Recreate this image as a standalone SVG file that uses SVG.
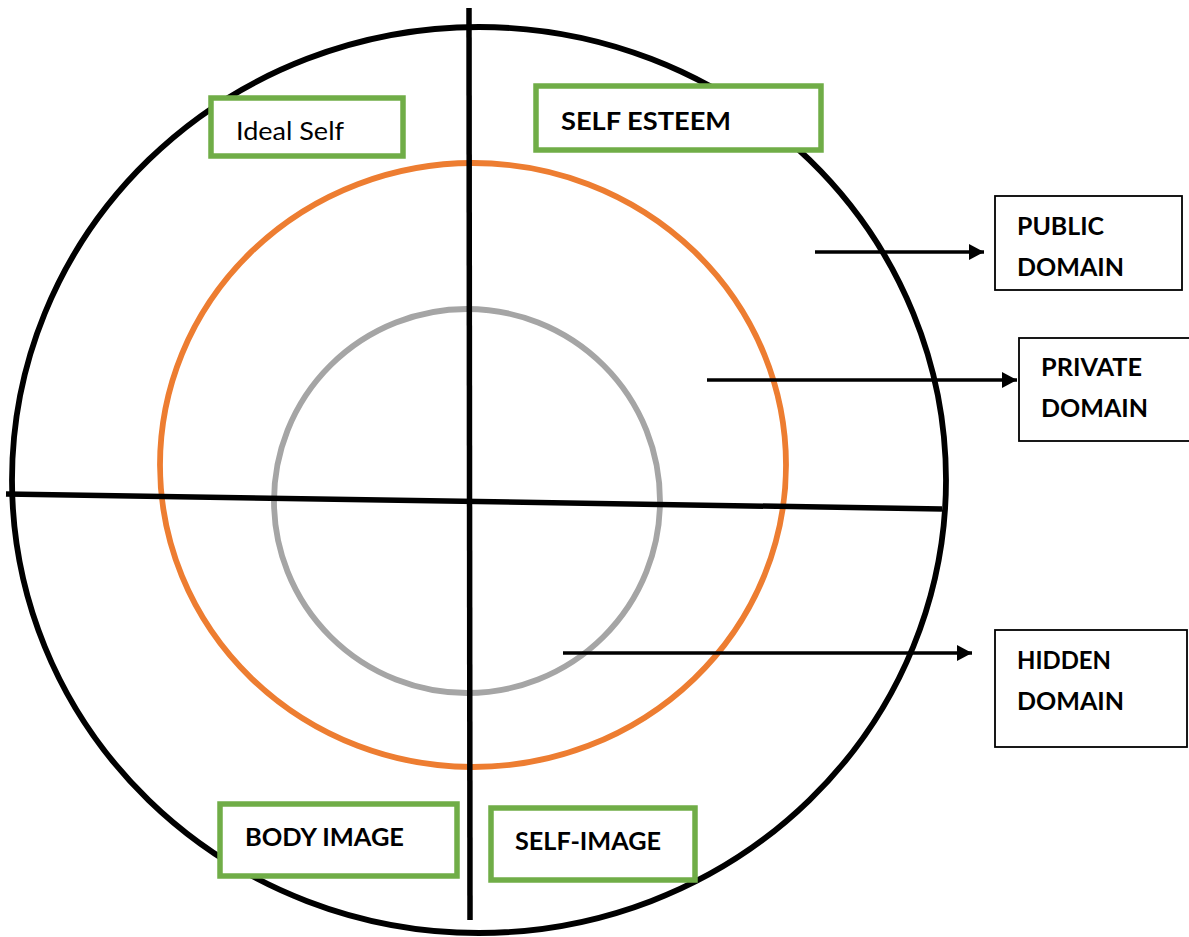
<svg xmlns="http://www.w3.org/2000/svg" width="1189" height="937" viewBox="0 0 1189 937">
  <style>
    .ring { fill: none; stroke-width: 5.8; }
    .axis { stroke: #000; stroke-width: 5.5; fill: none; }
    .tag { fill: #fff; stroke: #70AD47; stroke-width: 5.5; }
    .domain { fill: #fff; stroke: #000; stroke-width: 1.8; }
    .lbl { font-family: Lato, "Open Sans", "Liberation Sans", sans-serif; font-size: 25px; fill: #000; }
    .b { font-weight: bold; }
    .link { stroke: #000; stroke-width: 3.4; fill: none; marker-end: url(#head); }
  </style>
  <defs>
    <marker id="head" markerUnits="userSpaceOnUse" markerWidth="15" markerHeight="16" refX="15" refY="8" orient="auto">
      <path d="M0,0 L15,8 L0,16 z" fill="#000"/>
    </marker>
  </defs>

  <!-- concentric domains -->
  <g id="rings">
    <ellipse class="ring" cx="479" cy="480" rx="467" ry="453" stroke="#000"/>
    <ellipse class="ring" cx="473" cy="465" rx="313" ry="302" stroke="#ED7D31"/>
    <ellipse class="ring" cx="467" cy="501" rx="193" ry="192" stroke="#A5A5A5"/>
  </g>

  <!-- dividing axes -->
  <g id="axes">
    <line class="axis" x1="469" y1="8" x2="470" y2="920"/>
    <line class="axis" x1="6" y1="494" x2="942" y2="509"/>
  </g>

  <!-- pointers to the domain labels -->
  <g id="connectors">
    <line class="link" x1="815" y1="252" x2="984" y2="252"/>
    <line class="link" x1="707" y1="380" x2="1017" y2="380"/>
    <line class="link" x1="563" y1="653" x2="972" y2="653"/>
  </g>

  <g id="ideal-self">
    <rect class="tag" x="211" y="98" width="192" height="58"/>
    <text class="lbl" x="236" y="140" textLength="108" lengthAdjust="spacingAndGlyphs">Ideal Self</text>
  </g>

  <g id="self-esteem">
    <rect class="tag" x="536" y="86" width="285" height="64"/>
    <text class="lbl b" x="561" y="130" textLength="170" lengthAdjust="spacingAndGlyphs">SELF ESTEEM</text>
  </g>

  <g id="body-image">
    <rect class="tag" x="220" y="804" width="237" height="72"/>
    <text class="lbl b" x="245" y="846" textLength="159" lengthAdjust="spacingAndGlyphs">BODY IMAGE</text>
  </g>

  <g id="self-image">
    <rect class="tag" x="491" y="808" width="204" height="72"/>
    <text class="lbl b" x="515" y="850" textLength="146" lengthAdjust="spacingAndGlyphs">SELF-IMAGE</text>
  </g>

  <g id="public-domain">
    <rect class="domain" x="995" y="196" width="187" height="94"/>
    <text class="lbl b" x="1017" y="235" textLength="87" lengthAdjust="spacingAndGlyphs">PUBLIC</text>
    <text class="lbl b" x="1017" y="276" textLength="107" lengthAdjust="spacingAndGlyphs">DOMAIN</text>
  </g>

  <g id="private-domain">
    <rect class="domain" x="1019" y="338" width="175" height="103"/>
    <text class="lbl b" x="1041" y="376" textLength="101" lengthAdjust="spacingAndGlyphs">PRIVATE</text>
    <text class="lbl b" x="1041" y="417" textLength="107" lengthAdjust="spacingAndGlyphs">DOMAIN</text>
  </g>

  <g id="hidden-domain">
    <rect class="domain" x="995" y="630" width="192" height="117"/>
    <text class="lbl b" x="1017" y="669" textLength="94" lengthAdjust="spacingAndGlyphs">HIDDEN</text>
    <text class="lbl b" x="1017" y="710" textLength="107" lengthAdjust="spacingAndGlyphs">DOMAIN</text>
  </g>
</svg>
